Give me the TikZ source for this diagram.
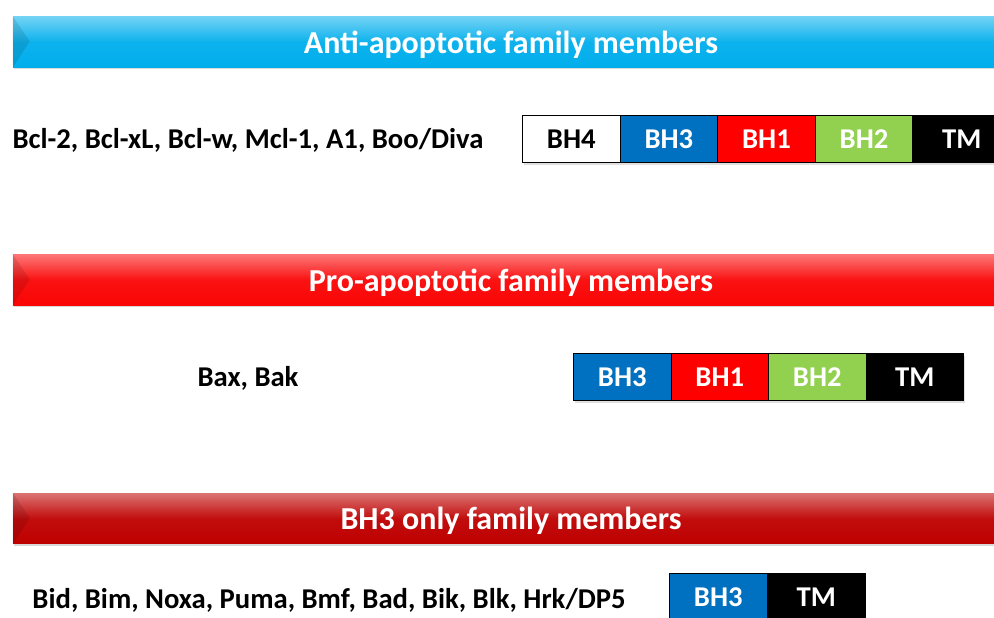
\documentclass[tikz,border=0pt]{standalone}
\usepackage{fontspec}
\setmainfont{Carlito}
\usepackage{tikz}
\usetikzlibrary{positioning, shadows, calc}
\definecolor{anticyan}{RGB}{0,174,236}
\definecolor{prored}{RGB}{250,5,5}
\definecolor{onlyred}{RGB}{190,0,0}
\definecolor{bhblue}{RGB}{0,112,192}
\definecolor{bhred}{RGB}{255,0,0}
\definecolor{bhgreen}{RGB}{146,208,80}

\tikzset{
  bannerbar/.style={minimum width=747pt, minimum height=38pt, inner sep=0pt,
    text=white, text depth=0pt, font=\bfseries\fontsize{24}{24}\selectfont,
    top color=#1!55!white, bottom color=#1, middle color=#1!95!white,
    drop shadow={opacity=0.3, shadow xshift=0.8pt, shadow yshift=-1.5pt}},
  domainbox/.style={draw=black, line width=0.7pt, minimum width=73.2pt, minimum height=35.3pt,
    inner sep=0pt, font=\bfseries\fontsize{21.5}{22}\selectfont},
  familytext/.style={font=\bfseries\fontsize{21.5}{22}\selectfont}
}

\begin{document}
\begin{tikzpicture}[x=0.75pt, y=-0.75pt]
\useasboundingbox (0,0) rectangle (994,617);
\clip (0,0) rectangle (994,617);

% banners
\node[bannerbar=anticyan] (antibar) at (511,42) {Anti-apoptotic family members};
\node[bannerbar=prored] (probar) at (511,280) {Pro-apoptotic family members};
\node[bannerbar=onlyred] (onlybar) at (511,518.5) {BH3 only family members};
\foreach \b in {antibar, probar, onlybar}{
  \fill[black, opacity=0.1] (\b.north west) -- ++(17,25) -- (\b.south west) -- cycle;
}

% anti-apoptotic row
\node[familytext] (antinames) at (248,140) {Bcl-2, Bcl-xL, Bcl-w, Mcl-1, A1, Boo/Diva};
\foreach \lab/\col/\txt [count=\i from 0] in {BH4/white/black, BH3/bhblue/white, BH1/bhred/white, BH2/bhgreen/white, TM/black/white}{
  \node[domainbox, fill=\col, text=\txt, anchor=north west,
    drop shadow={opacity=0.25, shadow xshift=1pt, shadow yshift=-2pt}]
    (anti\i) at ({522+97.6*\i},115) {\lab};
}

% pro-apoptotic row
\node[familytext] (pronames) at (248,378) {Bax, Bak};
\foreach \lab/\col [count=\i from 0] in {BH3/bhblue, BH1/bhred, BH2/bhgreen, TM/black}{
  \node[domainbox, fill=\col, text=white, anchor=north west,
    drop shadow={opacity=0.25, shadow xshift=1pt, shadow yshift=-2pt}]
    (pro\i) at ({573+97.5*\i},353) {\lab};
}

% BH3-only row
\node[familytext] (onlynames) at (329,600) {Bid, Bim, Noxa, Puma, Bmf, Bad, Bik, Blk, Hrk/DP5};
\foreach \lab/\col [count=\i from 0] in {BH3/bhblue, TM/black}{
  \node[domainbox, fill=\col, text=white, anchor=north west] (only\i) at ({669+98*\i},573) {\lab};
}
\end{tikzpicture}
\end{document}
